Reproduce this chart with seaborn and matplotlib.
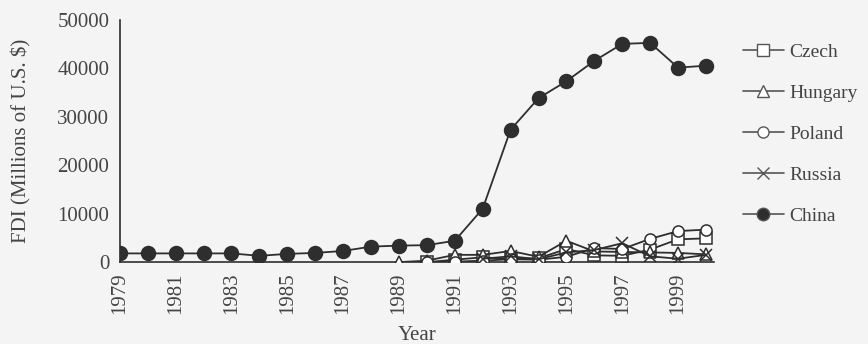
import numpy as np
import pandas as pd
import matplotlib
matplotlib.use("Agg")
import matplotlib.pyplot as plt
import seaborn as sns
from matplotlib.lines import Line2D

# ---- data (millions of U.S. $) ----
china_years = list(range(1979, 2001))
china = [1800, 1800, 1800, 1800, 1800, 1300, 1700, 1900, 2300, 3200, 3400, 3500,
         4400, 11000, 27300, 33800, 37300, 41500, 45000, 45200, 40100, 40500]

hungary_years = list(range(1989, 2001))
hungary = [0, 300, 1500, 1500, 2300, 1100, 4400, 2200, 2100, 2000, 1900, 1600]

poland_years = list(range(1990, 2001))
poland = [0, 100, 300, 600, 500, 1100, 2900, 2700, 4800, 6400, 6700]

czech_years = list(range(1990, 2001))
czech = [0, 500, 1000, 600, 800, 2700, 1400, 1300, 2600, 4700, 4900]

russia_years = list(range(1992, 2001))
russia = [700, 1200, 600, 2000, 2500, 3900, 1200, 700, 1500]

countries = ['Czech', 'Hungary', 'Poland', 'Russia', 'China']
series = {
    'Czech': (czech_years, czech),
    'Hungary': (hungary_years, hungary),
    'Poland': (poland_years, poland),
    'Russia': (russia_years, russia),
    'China': (china_years, china),
}
markers = {'Czech': 's', 'Hungary': '^', 'Poland': 'o', 'Russia': 'x', 'China': 'o'}

frames = []
for name in countries:
    yrs, vals = series[name]
    frames.append(pd.DataFrame({'year': yrs, 'fdi': vals, 'country': name}))
df = pd.concat(frames, ignore_index=True)

# ---- style ----
sns.set_style("white")
plt.rcParams['font.family'] = ['Liberation Serif', 'DejaVu Serif']
ink = '#2e2e2e'
txt = '#444444'
bg = '#f4f4f4'
fs = 15

fig = plt.figure(figsize=(8.68, 3.44), dpi=100, facecolor=bg)
ax = fig.add_axes([0.138, 0.238, 0.685, 0.705])
ax.set_facecolor(bg)

for name in countries:
    sub = df[df['country'] == name]
    filled = name == 'China'
    sns.lineplot(
        data=sub, x='year', y='fdi', ax=ax,
        color=ink, linewidth=1.3, estimator=None,
        marker=markers[name],
        markersize=10 if filled else 8,
        markerfacecolor=ink if filled else 'white',
        markeredgecolor=ink, markeredgewidth=1.1,
        zorder=5 if filled else 3,
    )

ax.set_xlim(1979, 2000.3)
ax.set_ylim(0, 50000)
ax.set_xticks(range(1979, 2001))
ax.set_xticklabels([str(y) if (y - 1979) % 2 == 0 else '' for y in range(1979, 2001)],
                   rotation=90, fontsize=fs, color=txt)
ax.set_yticks(range(0, 50001, 10000))
ax.set_yticklabels([str(v) for v in range(0, 50001, 10000)], fontsize=fs, color=txt)
ax.tick_params(axis='both', direction='inout', length=7, width=1, color=ink, pad=4)

for s in ['top', 'right']:
    ax.spines[s].set_visible(False)
for s in ['left', 'bottom']:
    ax.spines[s].set_color(ink)
    ax.spines[s].set_linewidth(1.2)

ax.set_xlabel('Year', fontsize=fs, color=txt)
ax.set_ylabel('FDI (Millions of U.S. $)', fontsize=fs, color=txt)
ax.xaxis.set_label_coords(0.5, -0.265)
ax.yaxis.set_label_coords(-0.148, 0.5)

handles = []
for name in countries:
    filled = name == 'China'
    handles.append(Line2D([0], [0], color='#555555', linewidth=1.2,
                          marker=markers[name], markersize=9 if filled else 8,
                          markerfacecolor=ink if filled else 'white',
                          markeredgecolor='#555555', markeredgewidth=1.0))
leg = ax.legend(handles, countries, loc='upper left', bbox_to_anchor=(1.028, 0.95),
                frameon=False, fontsize=14, handlelength=2.1, labelspacing=1.2,
                handletextpad=0.3, borderaxespad=0.2)
for t in leg.get_texts():
    t.set_color(txt)

fig.savefig('out.png', dpi=100, facecolor=bg)
